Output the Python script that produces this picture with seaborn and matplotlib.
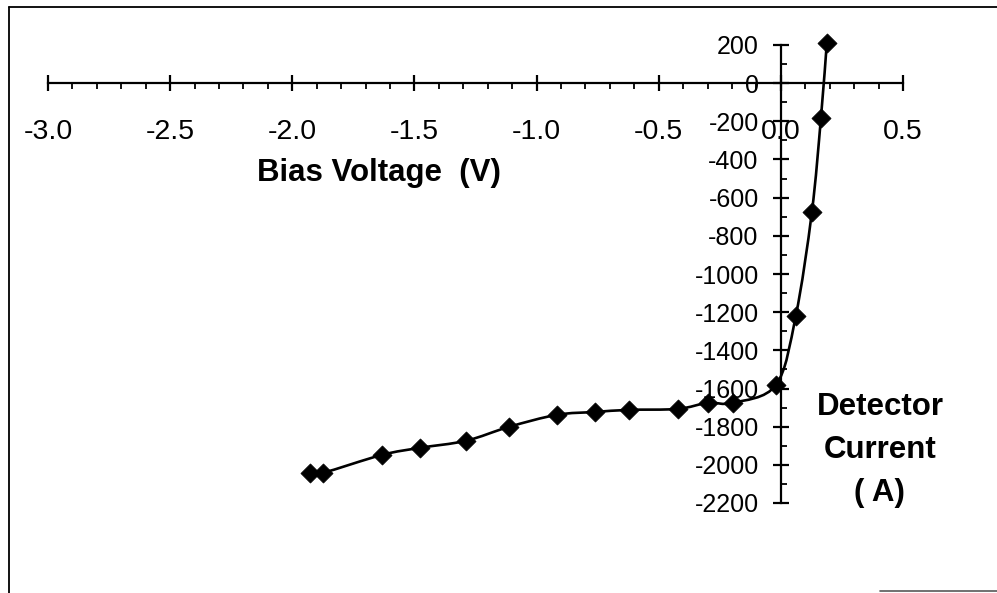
import numpy as np
import pandas as pd
import seaborn as sns
import matplotlib
matplotlib.use("Agg")
import matplotlib.pyplot as plt
from matplotlib.path import Path
from matplotlib.patches import PathPatch
from matplotlib.lines import Line2D
from matplotlib.ticker import MultipleLocator, FormatStrFormatter

# Measured I-V characteristic of the detector
bias_voltage = [-1.928, -1.875, -1.633, -1.478, -1.289, -1.113, -0.917, -0.761,
                -0.622, -0.422, -0.299, -0.196, -0.020, 0.061, 0.127, 0.164, 0.188]
detector_current = [-2042, -2042, -1948, -1911, -1874, -1801, -1738, -1723,
                    -1712, -1707, -1675, -1675, -1581, -1220, -675, -183, 209]

x_ticks = [-3.0, -2.5, -2.0, -1.5, -1.0, -0.5, 0.0, 0.5]
y_ticks = [200, 0, -200, -400, -600, -800, -1000, -1200, -1400, -1600,
           -1800, -2000, -2200]

df = pd.DataFrame({"V": bias_voltage, "I": detector_current})

sns.set_style("white")
plt.rcParams["font.family"] = ["Liberation Sans", "DejaVu Sans"]
plt.rcParams["text.color"] = "black"
plt.rcParams["axes.labelcolor"] = "black"

W, H = 997, 593
fig = plt.figure(figsize=(W / 100, H / 100), dpi=100)
ax = fig.add_axes([48 / W, 1 - 503 / H, (903 - 48) / W, (503 - 45) / H])
ax.set_facecolor("none")

# Smoothed connecting curve (Catmull-Rom style cubic Bezier through the points)
pts = np.column_stack([df["V"].to_numpy(float), df["I"].to_numpy(float)])
n = len(pts)
verts = [tuple(pts[0])]
codes = [Path.MOVETO]
for i in range(n - 1):
    p0 = pts[i - 1] if i > 0 else pts[i]
    p1 = pts[i]
    p2 = pts[i + 1]
    p3 = pts[i + 2] if i + 2 < n else pts[i + 1]
    c1 = p1 + (p2 - p0) / 6.0
    c2 = p2 - (p3 - p1) / 6.0
    verts += [tuple(c1), tuple(c2), tuple(p2)]
    codes += [Path.CURVE4] * 3
curve = PathPatch(Path(verts, codes), facecolor="none", edgecolor="black",
                  linewidth=1.9, clip_on=False, zorder=3)
ax.add_patch(curve)

sns.scatterplot(data=df, x="V", y="I", marker="D", s=95, color="black",
                edgecolor="black", linewidth=0.5, ax=ax, clip_on=False,
                zorder=4, legend=False)

ax.set_xlim(-3.0, 0.5)
ax.set_ylim(-2200, 200)

# Axes crossing at the origin
for side in ("top", "right"):
    ax.spines[side].set_visible(False)
ax.spines["left"].set_position(("data", 0))
ax.spines["bottom"].set_position(("data", 0))
for side in ("left", "bottom"):
    ax.spines[side].set_linewidth(1.6)
    ax.spines[side].set_color("black")
    ax.spines[side].set_zorder(2)

ax.set_xticks(x_ticks)
ax.set_yticks(y_ticks)
ax.xaxis.set_major_formatter(FormatStrFormatter("%.1f"))
ax.yaxis.set_major_formatter(FormatStrFormatter("%d"))
ax.xaxis.set_minor_locator(MultipleLocator(0.1))
ax.yaxis.set_minor_locator(MultipleLocator(100))

ax.tick_params(axis="both", which="both", bottom=True, left=True,
               top=False, right=False, color="black", labelcolor="black")
ax.tick_params(axis="x", which="major", direction="inout", length=11, width=1.6,
               pad=20, labelsize=20.5)
ax.tick_params(axis="x", which="minor", direction="out", length=4.5, width=1.3)
ax.tick_params(axis="y", which="major", direction="inout", length=12, width=1.6,
               pad=10, labelsize=18)
ax.tick_params(axis="y", which="minor", direction="in", length=4.5, width=1.3)

ax.set_xlabel("Bias Voltage  (V)", fontsize=22.5, fontweight="bold")
ax.xaxis.set_label_coords(0.387, 0.7205)
ax.xaxis.label.set_va("center")
ax.set_ylabel("Detector\nCurrent\n( A)", fontsize=22.5, fontweight="bold",
              rotation=0, linespacing=1.55, ha="center", va="center")
ax.yaxis.set_label_coords(0.973, 0.116)

# Border lines of the chart area
fig.add_artist(Line2D([9 / W, 9 / W], [0, 1 - 7 / H], transform=fig.transFigure,
                      color="black", linewidth=1.3))
fig.add_artist(Line2D([9 / W, 1], [1 - 7 / H, 1 - 7 / H], transform=fig.transFigure,
                      color="black", linewidth=1.3))
fig.add_artist(Line2D([880 / W, 1], [1 - 591 / H, 1 - 591 / H],
                      transform=fig.transFigure, color="0.35", linewidth=1.2))

fig.savefig("out.png", dpi=100)
